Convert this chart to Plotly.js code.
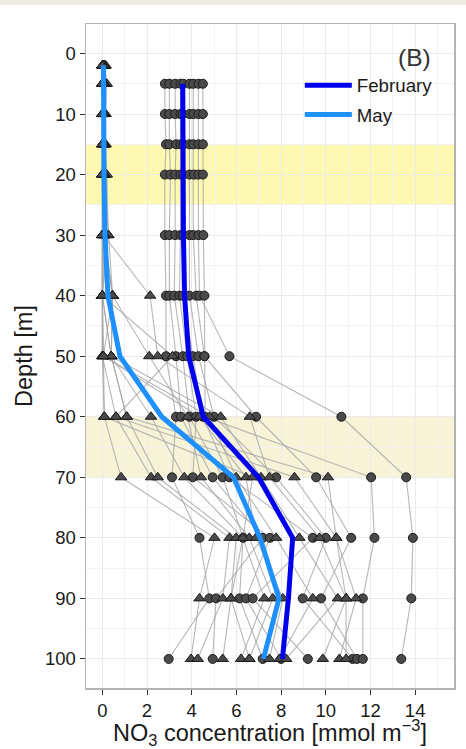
<!DOCTYPE html>
<html>
<head>
<meta charset="utf-8">
<script src="https://cdn.plot.ly/plotly-3.0.1.min.js"></script>
<style>
html,body{margin:0;padding:0;background:#ffffff;}
#strip{position:absolute;left:0;top:0;width:466px;height:5px;background:#eeebe2;z-index:5;}
#chart{width:466px;height:749px;}
</style>
</head>
<body>
<div id="strip"></div>
<div id="chart"></div>
<script>
// ---- Data ----
var febDepths = [5, 10, 15, 20, 30, 40, 50, 60, 70, 80, 90, 100];
var febStations = [
  [2.80, 2.80, 2.85, 2.80, 2.80, 2.85, 2.85, 3.30, 3.12, 4.35, 4.79, 2.97],
  [3.00, 3.00, 3.00, 3.05, 3.00, 3.00, 3.30, 3.52, 4.94, 7.18, 5.09, 4.94],
  [3.26, 3.26, 3.30, 3.26, 3.26, 3.22, 3.60, 3.90, 5.39, 6.30, 6.14, 7.18],
  [3.50, 3.50, 3.50, 3.50, 3.50, 3.45, 3.80, 4.20, 4.05, 7.50, 6.43, 8.00],
  [3.63, 3.60, 3.63, 3.63, 3.63, 3.60, 4.05, 4.50, 5.69, 9.42, 6.73, 9.20],
  [3.90, 3.90, 3.90, 3.90, 3.90, 3.90, 4.30, 5.00, 7.78, 10.00, 8.97, 11.20],
  [4.07, 4.07, 4.07, 4.10, 4.07, 4.20, 4.57, 6.88, 9.57, 11.14, 9.79, 11.40],
  [4.30, 4.30, 4.30, 4.30, 4.30, 4.35, 5.69, 10.70, 13.60, 13.90, 13.83, 13.38],
  [4.50, 4.50, 4.50, 4.50, 4.52, 4.57, 4.57, 4.60, 12.03, 12.18, 11.66, 11.66]
];

var mayDepths = [2, 5, 10, 15, 20, 30, 40, 50, 60, 70, 80, 90, 100];
var mayStations = [
  [0.00, 0.00, 0.00, 0.00, 0.00, 0.00, 0.00, 0.00, 0.09, 0.84, 5.02, 4.35, 3.97],
  [0.00, 0.00, 0.00, 0.00, 0.00, 0.00, 0.00, 0.00, 0.61, 2.18, 5.69, 5.39, 4.27],
  [0.05, 0.05, 0.05, 0.05, 0.05, 0.05, 0.00, 0.40, 1.09, 2.48, 5.99, 5.76, 5.39],
  [0.10, 0.10, 0.05, 0.10, 0.05, 0.10, 0.46, 0.40, 2.18, 3.67, 6.29, 7.25, 6.21],
  [0.05, 0.10, 0.10, 0.05, 0.10, 0.27, 0.46, 2.10, 3.82, 4.42, 6.58, 7.63, 6.58],
  [0.10, 0.15, 0.10, 0.10, 0.15, 0.20, 0.00, 0.05, 4.35, 6.43, 6.88, 8.08, 7.48],
  [0.15, 0.15, 0.10, 0.15, 0.10, 0.10, 0.46, 0.05, 4.80, 5.99, 7.78, 9.42, 7.93],
  [0.10, 0.20, 0.15, 0.10, 0.20, 0.27, 0.00, 0.40, 5.30, 7.10, 8.82, 10.54, 8.23],
  [0.05, 0.05, 0.05, 0.05, 0.05, 0.05, 2.14, 2.48, 6.60, 7.48, 9.72, 10.91, 9.87],
  [0.10, 0.10, 0.10, 0.10, 0.10, 0.10, 0.00, 3.15, 0.61, 8.60, 10.47, 11.36, 10.61],
  [0.05, 0.05, 0.05, 0.05, 0.05, 0.05, 0.46, 0.40, 1.09, 10.10, 10.47, 10.91, 10.91],
  [0.00, 0.00, 0.00, 0.00, 0.00, 0.00, 0.00, 0.05, 0.09, 6.73, 6.29, 5.76, 6.58]
];

var febMeanDepth = [5, 10, 15, 20, 30, 40, 50, 60, 70, 80, 90, 100];
var febMean = [3.60, 3.60, 3.60, 3.60, 3.63, 3.68, 3.87, 4.52, 6.99, 8.52, 8.33, 8.06];
var mayMeanDepth = [2, 5, 10, 15, 20, 30, 40, 50, 60, 70, 80, 90, 100];
var mayMean = [0.05, 0.05, 0.06, 0.07, 0.08, 0.12, 0.25, 0.79, 2.66, 5.87, 7.06, 7.91, 7.21];

var bandDepths = [[15, 25], [60, 70]];
var bandColors = ['#fdf9b3', '#f6f3d7'];

var xTicks = [0, 2, 4, 6, 8, 10, 12, 14];
var yTicks = [0, 10, 20, 30, 40, 50, 60, 70, 80, 90, 100];

// ---- Build traces ----
function linesFrom(stations, depths) {
  var xs = [], ys = [];
  stations.forEach(function (st) {
    st.forEach(function (v, i) { if (v !== null) { xs.push(v); ys.push(depths[i]); } });
    xs.push(null); ys.push(null);
  });
  return {x: xs, y: ys};
}
function pointsFrom(stations, depths) {
  var xs = [], ys = [];
  stations.forEach(function (st) {
    st.forEach(function (v, i) { if (v !== null) { xs.push(v); ys.push(depths[i]); } });
  });
  return {x: xs, y: ys};
}

var fl = linesFrom(febStations, febDepths);
var ml = linesFrom(mayStations, mayDepths);
var fp = pointsFrom(febStations, febDepths);
var mp = pointsFrom(mayStations, mayDepths);

var grayLine = {color: 'rgba(165,165,165,0.8)', width: 1.1};

var traces = [
  {x: fl.x, y: fl.y, mode: 'lines', line: grayLine, showlegend: false, hoverinfo: 'skip', connectgaps: false},
  {x: ml.x, y: ml.y, mode: 'lines', line: grayLine, showlegend: false, hoverinfo: 'skip', connectgaps: false},
  {x: fp.x, y: fp.y, mode: 'markers', showlegend: false,
   marker: {symbol: 'circle', size: 9, color: '#4a4a4a', line: {color: '#1a1a1a', width: 1}}},
  {x: mp.x, y: mp.y, mode: 'markers', showlegend: false,
   marker: {symbol: 'triangle-up', size: 10, color: '#4a4a4a', line: {color: '#1a1a1a', width: 1}}},
  {x: febMean, y: febMeanDepth, mode: 'lines', name: 'February', legendgroup: 'f',
   line: {color: '#0000ee', width: 5}},
  {x: mayMean, y: mayMeanDepth, mode: 'lines', name: 'May', legendgroup: 'm',
   line: {color: '#1e90ff', width: 5}}
];

var shapes = bandDepths.map(function (b, i) {
  return {type: 'rect', xref: 'paper', yref: 'y', x0: 0, x1: 1, y0: b[0], y1: b[1],
          fillcolor: bandColors[i], line: {width: 0}, layer: 'below'};
});

var font = 'Liberation Sans, Arial, sans-serif';

var layout = {
  width: 466, height: 749,
  margin: {l: 86, r: 12, t: 24, b: 61},
  paper_bgcolor: '#ffffff', plot_bgcolor: '#ffffff',
  font: {family: font, color: '#1a1a1a'},
  showlegend: true,
  legend: {x: 0.581, y: 0.936, xanchor: 'left', yanchor: 'top', bgcolor: 'rgba(0,0,0,0)',
           font: {family: font, size: 18.7, color: '#1a1a1a'}, tracegroupgap: 2, itemwidth: 47},
  xaxis: {
    range: [-0.73, 15.74], tickvals: xTicks, ticktext: xTicks.map(String),
    ticks: 'outside', ticklen: 5, tickcolor: '#333333', tickwidth: 1,
    showgrid: true, gridcolor: '#ebebeb', gridwidth: 1,
    minor: {dtick: 1, showgrid: true, gridcolor: '#f3f3f3', gridwidth: 1},
    zeroline: false, showline: true, mirror: true, linecolor: '#b3b3b3', linewidth: 1.5,
    tickfont: {family: font, size: 18.5, color: '#1a1a1a'},
    title: {text: 'NO<sub>3</sub> concentration [mmol m<sup>−3</sup>]', font: {family: font, size: 23.5, color: '#1a1a1a'}, standoff: 6}
  },
  yaxis: {
    range: [104.8, -4.87], tickvals: yTicks, ticktext: yTicks.map(String),
    ticks: 'outside', ticklen: 5, tickcolor: '#333333', tickwidth: 1,
    showgrid: true, gridcolor: '#ebebeb', gridwidth: 1,
    minor: {dtick: 5, showgrid: true, gridcolor: '#f3f3f3', gridwidth: 1},
    zeroline: false, showline: true, mirror: true, linecolor: '#b3b3b3', linewidth: 1.5,
    tickfont: {family: font, size: 18.5, color: '#1a1a1a'},
    title: {text: 'Depth [m]', font: {family: font, size: 23.5, color: '#1a1a1a'}, standoff: 5}
  },
  shapes: shapes,
  annotations: [
    {text: '(B)', xref: 'paper', yref: 'paper', x: 0.943, y: 0.950, xanchor: 'right', yanchor: 'middle',
     showarrow: false, font: {family: font, size: 24.5, color: '#333333'}}
  ]
};

Plotly.newPlot('chart', traces, layout, {displayModeBar: false, staticPlot: true});
</script>
</body>
</html>
